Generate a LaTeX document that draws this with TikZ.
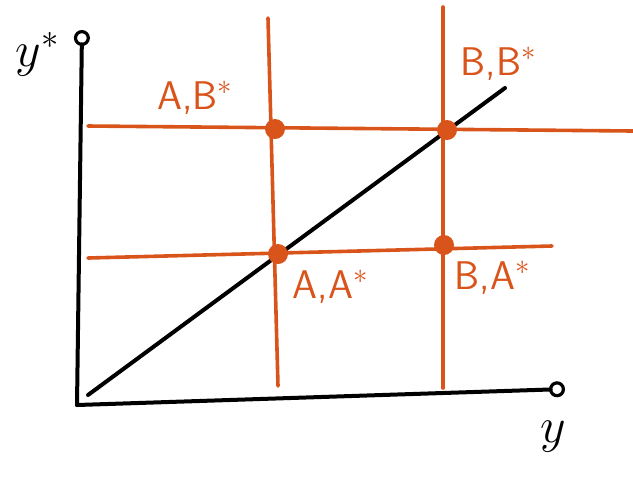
\documentclass[tikz,border=0pt]{standalone}
\usepackage{xcolor}
\usepackage{tikz}
\usetikzlibrary{arrows.meta,positioning}
\definecolor{sketchorange}{RGB}{217,84,26}

\begin{document}
\begin{tikzpicture}[
    x=0.5pt, y=-0.5pt,
    axis/.style={line width=2pt, black, line cap=round, -{Circle[open, length=8pt, line width=1.6pt]}},
    diag/.style={line width=2pt, black, line cap=round},
    gridline/.style={line width=1.8pt, sketchorange, line cap=round},
    dot/.style={circle, fill=sketchorange, inner sep=0pt, minimum size=10pt},
    lbl/.style={text=sketchorange, font=\sffamily\fontsize{20}{24}\selectfont, inner sep=1pt},
    axlbl/.style={font=\fontsize{24}{28}\selectfont, inner sep=1pt}
]
\useasboundingbox (0,0) rectangle (633,479);

% axes
\coordinate (origin) at (77,405);
\coordinate (ytop) at (82,30);
\coordinate (xend) at (565,389);
\coordinate (dstart) at (88,395);
\coordinate (dend) at (505,88);

% orange lines ends
\coordinate (hiL) at (88,126);
\coordinate (hiR) at (633,131);
\coordinate (loL) at (88,258);
\coordinate (loR) at (552,246);
\coordinate (vaT) at (268,18);
\coordinate (vaB) at (278,386);
\coordinate (vbT) at (443,7);
\coordinate (vbB) at (443,388);

\draw[gridline] (hiL) -- (hiR);
\draw[gridline] (loL) -- (loR);
\draw[gridline] (vaT) -- (vaB);
\draw[gridline] (vbT) -- (vbB);

\draw[axis] (origin) -- (ytop);
\draw[axis] (origin) -- (xend);
\draw[diag] (dstart) -- (dend);

\node (ab) [dot] at (275,129) {};
\node (bb) [dot] at (447,130) {};
\node (aa) [dot] at (278,254) {};
\node (ba) [dot] at (444,245) {};

\node (labab) [lbl, above left=2.5pt and 16pt of ab] {A,B$^{*}$};
\node (labbb) [lbl, above right=20pt and 2pt of bb] {B,B$^{*}$};
\node (labaa) [lbl, below right=3pt and 2.5pt of aa] {A,A$^{*}$};
\node (labba) [lbl, below right=3pt and 0.5pt of ba] {B,A$^{*}$};

\node (ylbl) [axlbl, left=10pt of ytop, yshift=-12pt] {$y^{*}$};
\node (xlbl) [axlbl, below=15pt of xend, xshift=-6pt] {$y$};
\end{tikzpicture}
\end{document}
